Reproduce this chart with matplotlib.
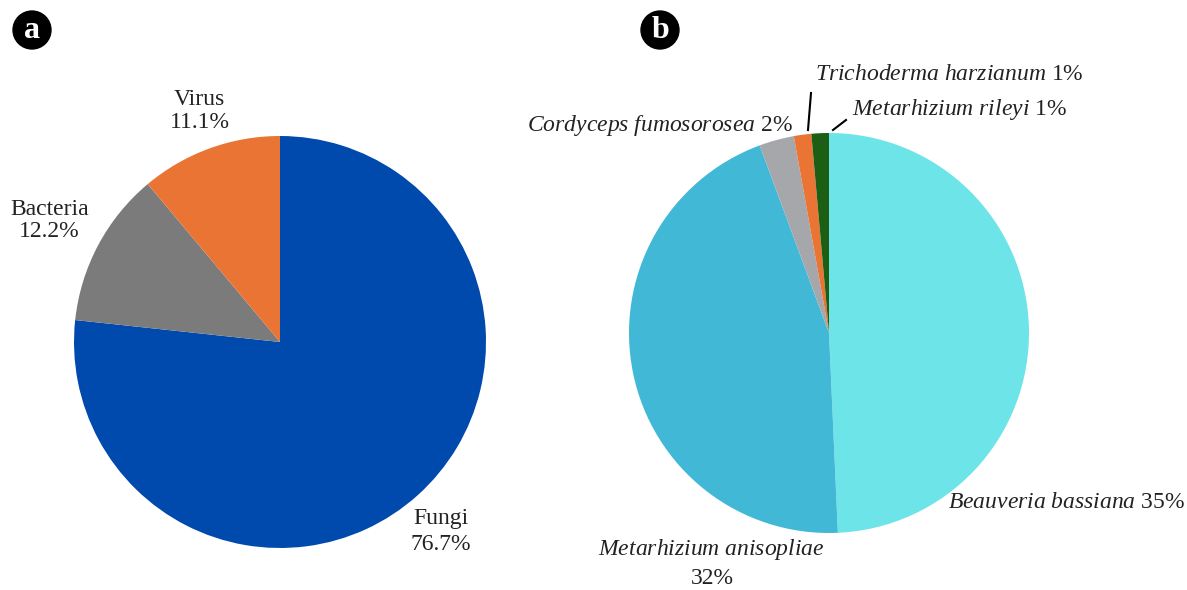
import matplotlib.pyplot as plt

plt.rcParams['font.family'] = ['Liberation Serif', 'DejaVu Serif']
plt.rcParams['mathtext.fontset'] = 'custom'
plt.rcParams['mathtext.rm'] = 'Liberation Serif'
plt.rcParams['mathtext.it'] = 'Liberation Serif:italic'

# panel a
groups = ["Fungi", "Bacteria", "Virus"]
group_pct = [76.7, 12.2, 11.1]
group_colors = ["#004AAD", "#7B7B7B", "#E97434"]

# panel b
species = ["Beauveria bassiana", "Metarhizium anisopliae", "Cordyceps fumosorosea",
           "Trichoderma harzianum", "Metarhizium rileyi"]
species_pct = [35, 32, 2, 1, 1]
species_colors = ["#6CE4E8", "#42B8D7", "#A6A7AB", "#E97434", "#1B5E14"]

W, H = 1187, 590
fig = plt.figure(figsize=(W / 100, H / 100), dpi=100)


def pie_axes(cx, cy, r):
    ax = fig.add_axes([(cx - r) / W, (H - cy - r) / H, 2 * r / W, 2 * r / H])
    ax.set_xlim(-1, 1)
    ax.set_ylim(-1, 1)
    ax.axis("off")
    return ax


fs = 17

# ---- a ----
ax1 = pie_axes(280, 342, 206)
ax1.pie(group_pct, colors=group_colors, startangle=90, counterclock=False,
        radius=1, center=(0, 0), frame=False)
ax1.set_xlim(-1, 1)
ax1.set_ylim(-1, 1)
ax1.text(-0.39, 1.12, "%s\n%.1f%%" % (groups[2], group_pct[2]), ha="center", va="center",
         fontsize=fs, linespacing=1.1, color="#222222")
ax1.text(-1.12, 0.59, "%s\n%.1f%%" % (groups[1], group_pct[1]), ha="center", va="center",
         fontsize=fs, linespacing=1.1, color="#222222")
ax1.text(0.78, -0.92, "%s\n%.1f%%" % (groups[0], group_pct[0]), ha="center", va="center",
         fontsize=fs, linespacing=1.35, color="#222222")


def it(name, pct):
    return "$\\mathit{" + name.replace(" ", "\\ ") + "}$ " + pct


# ---- b ----
ax2 = pie_axes(829, 333, 200)
ax2.pie(species_pct, colors=species_colors, startangle=90, counterclock=False,
        radius=1, center=(0, 0), frame=False)
ax2.set_xlim(-1, 1)
ax2.set_ylim(-1, 1)
ax2.text(0.595, -0.85, it(species[0], "%d%%" % species_pct[0]), ha="left", va="center",
         fontsize=fs, color="#222222")
ax2.text(-0.585, -1.08, it(species[1], ""), ha="center", va="center",
         fontsize=fs, color="#222222")
ax2.text(-0.585, -1.23, "%d%%" % species_pct[1], ha="center", va="center",
         fontsize=fs, color="#222222")
ax2.text(-0.18, 1.04, it(species[2], "%d%%" % species_pct[2]), ha="right", va="center",
         fontsize=fs, color="#222222")
ax2.text(-0.07, 1.29, it(species[3], "%d%%" % species_pct[3]), ha="left", va="center",
         fontsize=fs, color="#222222")
ax2.text(0.115, 1.115, it(species[4], "%d%%" % species_pct[4]), ha="left", va="center",
         fontsize=fs, color="#222222")
ax2.plot([-0.105, -0.09], [1.015, 1.2], color="black", lw=1.5, clip_on=False)
ax2.plot([0.02, 0.085], [1.015, 1.065], color="black", lw=1.5, clip_on=False)

# panel letters
for x, letter in [(32, "a"), (660, "b")]:
    fig.text(x / W, 1 - 30 / H, letter, ha="center", va="center", fontsize=23,
             fontweight="bold", color="white",
             bbox=dict(boxstyle="circle,pad=0.14", fc="black", ec="black"))

fig.savefig("out.png", dpi=100)
